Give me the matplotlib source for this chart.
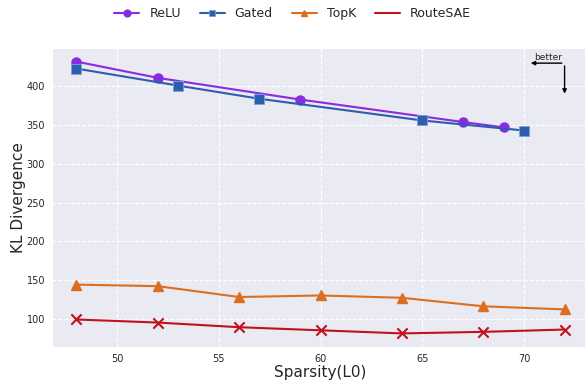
import matplotlib
matplotlib.use("Agg")
import matplotlib.pyplot as plt
import seaborn as sns

relu_x = [48, 52, 59, 67, 69]
relu_y = [432, 411, 383, 354, 347]
gated_x = [48, 53, 57, 65, 70]
gated_y = [423, 401, 384, 356, 343]
topk_x = [48, 52, 56, 60, 64, 68, 72]
topk_y = [144, 142, 128, 130, 127, 116, 112]
route_x = [48, 52, 56, 60, 64, 68, 72]
route_y = [99, 95, 89, 85, 81, 83, 86]

sns.set_style("darkgrid", {"grid.linestyle": "--"})

fig = plt.figure(figsize=(5.85, 3.83), dpi=100)
ax = fig.add_axes([52 / 585, 1 - 347 / 383, 537 / 585, 299 / 383])

ax.plot(relu_x, relu_y, color="#8A2BE2", marker="o", markersize=6.5, lw=1.5, label="ReLU")
ax.plot(gated_x, gated_y, color="#2B5FAD", marker="s", markersize=6.5, lw=1.5,
        markeredgecolor="#7fa0d8", markeredgewidth=0.6, label="Gated")
ax.plot(topk_x, topk_y, color="#DD6E1F", marker="^", markersize=6.5, lw=1.5, label="TopK")
ax.plot(route_x, route_y, color="#C0111F", lw=1.5, label="RouteSAE")
ax.scatter(route_x, route_y, color="#C0111F", marker="x", s=55, linewidths=1.5, zorder=3)

ax.set_xlabel("Sparsity(L0)", fontsize=11, labelpad=1)
ax.set_ylabel("KL Divergence", fontsize=11, labelpad=0)
ax.tick_params(labelsize=7, pad=1.5)
ax.set_xticks([50, 55, 60, 65, 70])
ax.set_yticks([100, 150, 200, 250, 300, 350, 400])

# "better" arrows in the top right corner
ax.annotate("", xy=(70.2, 430), xytext=(72.0, 430),
            arrowprops=dict(arrowstyle="-|>", color="black", lw=1, mutation_scale=6))
ax.annotate("", xy=(72.0, 387), xytext=(72.0, 430),
            arrowprops=dict(arrowstyle="-|>", color="black", lw=1, mutation_scale=6))
ax.text(71.2, 432, "better", fontsize=6.5, ha="center", va="bottom")

fig.legend(loc="upper center", bbox_to_anchor=(0.5, 1.01), ncol=4, frameon=False,
           fontsize=9, markerscale=0.75, columnspacing=1.5)

fig.savefig("out.png", dpi=100)
